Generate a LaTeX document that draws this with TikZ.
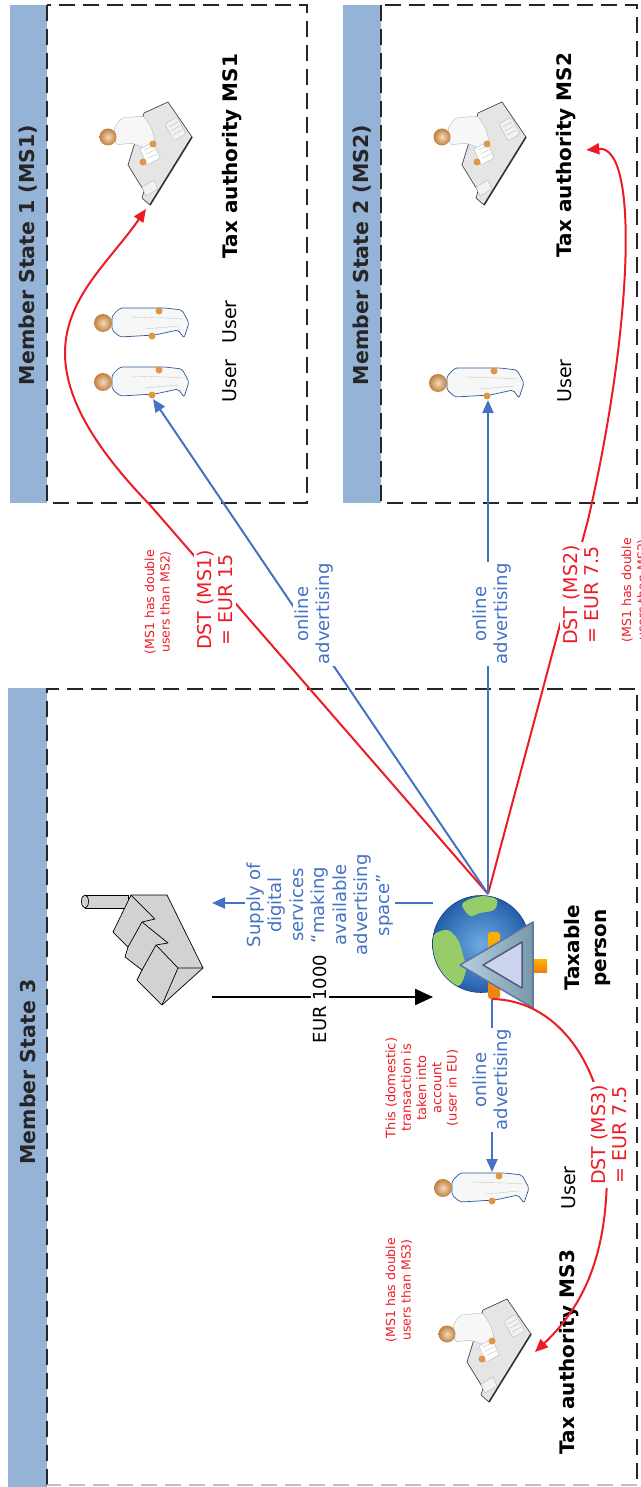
\documentclass[tikz,border=0pt]{standalone}
\usepackage{fontspec}
\setmainfont{DejaVu Sans}
\usetikzlibrary{arrows.meta}

\definecolor{barblue}{RGB}{149,179,215}
\definecolor{advblue}{RGB}{68,114,196}
\definecolor{dstred}{RGB}{237,28,36}
\definecolor{skin}{RGB}{225,150,70}
\definecolor{userblue}{RGB}{45,85,155}
\definecolor{globelight}{RGB}{110,170,225}
\definecolor{globedark}{RGB}{35,95,170}
\definecolor{landgreen}{RGB}{150,205,105}
\definecolor{tribody}{RGB}{150,190,210}
\definecolor{triedge}{RGB}{95,115,165}
\definecolor{triinner}{RGB}{205,212,238}

\tikzset{
  user/.pic={
    \filldraw[fill=gray!6, draw=userblue, line width=0.7pt, rounded corners=2pt]
      (9,-7) -- (17,-15) -- (62,-15) -- (79,-13) -- (86,0) -- (81,15) -- (75,7) -- (52,12) -- (17,14) -- (9,7) -- cycle;
    \draw[gray!45] (28,-6) -- (62,-5) -- (80,-4) (42,6) -- (76,3);
    \fill[skin] (56,-12) circle (3.5) (49,13) circle (3.5);
    \shade[inner color=skin!35!white, outer color=skin!85!black] (0,0) circle (9);
    \coordinate (-top) at (49,-16);
    \coordinate (-bot) at (50,17);
  },
  officer/.pic={
    \filldraw[fill=gray!20, draw=gray!55!black, line width=0.7pt, line join=round]
      (36,-24) -- (60,-35) -- (84,0) -- (42,68) -- (34,61) -- (36,54) -- (20,28) -- cycle;
    \draw[gray!40!black, line width=1.6pt] (84,0) -- (42,68);
    \filldraw[fill=gray!10, draw=gray!55, rounded corners=2pt] (57,-13) -- (69,-20) -- (78,-3) -- (66,4) -- cycle;
    \draw[gray!55] (61,-10) -- (70,-15) (63,-6) -- (72,-11) (65,-2) -- (74,-7);
    \filldraw[fill=gray!10, draw=gray!55] (34,50) -- (46,43) -- (50,52) -- (38,59) -- cycle;
    \filldraw[fill=gray!6, draw=gray!55, rounded corners=3pt]
      (6,-9) -- (13,-19) -- (36,-21) -- (44,-8) -- (48,8) -- (40,12) -- (24,6) -- (8,8) -- cycle;
    \filldraw[fill=white, draw=gray!55] (32,12) -- (45,5) -- (52,21) -- (39,28) -- cycle;
    \draw[gray!50] (36,13) -- (45,9) (38,17) -- (47,13) (40,21) -- (49,17);
    \fill[skin] (45,7) circle (3.5) (35,25) circle (3.5);
    \shade[inner color=skin!35!white, outer color=skin!85!black] (0,0) circle (8.5);
    \coordinate (-in) at (38,72);
    \coordinate (-side) at (88,18);
  }
}

\begin{document}
\begin{tikzpicture}[x=1pt,y=-1pt,
    zone/.style={draw=black!85, line width=1.8pt, dash pattern=on 16pt off 8pt},
    statebar/.style={fill=barblue},
    state/.style={rotate=90, text=black!85, font=\fontsize{20.5}{24}\selectfont\bfseries},
    title/.style={rotate=90, font=\fontsize{20}{27}\selectfont\bfseries},
    who/.style={rotate=90, font=\fontsize{19}{22}\selectfont},
    adv/.style={rotate=90, align=center, text=advblue, fill=white, inner sep=1.5pt, font=\fontsize{18}{21.5}\selectfont},
    dst/.style={rotate=90, align=center, text=dstred, fill=white, inner sep=3pt, font=\fontsize{19}{21}\selectfont},
    note/.style={rotate=90, align=center, text=dstred, font=\fontsize{12.5}{15.5}\selectfont},
    advline/.style={draw=advblue, line width=2pt, -{Triangle[length=13pt,width=11pt]}},
    dstline/.style={draw=dstred, line width=2pt, -{Triangle[length=13pt,width=11pt]}}]
\useasboundingbox (0,0) rectangle (640,1487);

% member states
\fill[statebar] (10,5) rectangle (47,503);
\draw[zone] (47,5) rectangle (307,503);
\fill[statebar] (343,5) rectangle (381,503);
\draw[zone] (381,5) rectangle (637,503);
\fill[statebar] (8,688) rectangle (47,1487);
\draw[zone] (47,1485) -- (47,689) -- (637,689) -- (637,1485);
\draw[zone, draw=black!25] (637,1485) -- (47,1485);
\node[state] (ms1) at (28,255) {Member State 1 (MS1)};
\node[state] (ms2) at (362,255) {Member State 2 (MS2)};
\node[state] (ms3) at (28,1072) {Member State 3};

% people
\pic (o1) at (108,137) {officer};
\pic (u1) at (103,323) {user};
\pic (u2) at (103,382) {user};
\pic (o2) at (442,137) {officer};
\pic (u3) at (438,383) {user};
\pic (u4) at (443,1188) {user};
\pic (o3) at (447,1334) {officer};
\node[title] (ta1) at (232,156) {Tax authority MS1};
\node[who] (w1) at (230,322) {User};
\node[who] (w2) at (230,381) {User};
\node[title] (ta2) at (566,155) {Tax authority MS2};
\node[who] (w3) at (565,381) {User};
\node[who] (w4) at (569,1188) {User};
\node[title] (ta3) at (569,1352) {Tax authority MS3};

% factory
\filldraw[fill=gray!35, draw=black, line width=0.7pt] (85,895) rectangle (128,908);
\filldraw[fill=gray!35, draw=black, line width=0.7pt] (85,901.5) ellipse [x radius=3.5, y radius=6.5];
\filldraw[fill=gray!35, draw=black, line width=0.7pt, line join=round]
  (131,895) -- (167,895) -- (203,968) -- (162,1005) -- (137,980) -- (142,970) -- (125,957) -- (128,947) -- (113,932) -- cycle;
\draw[line width=0.7pt, line join=round] (131,895) -- (155,919) -- (142,922) -- (168,943) -- (156,945) -- (178,968) -- (203,968)
  (178,968) -- (162,1005) (128,947) -- (142,922) (142,970) -- (156,945);

% taxable person
\node[circle, minimum size=97pt, inner sep=0pt, draw=globedark!70!black, line width=0.6pt,
  inner color=globelight, outer color=globedark] (globe) at (481,944) {};
\begin{scope}
  \clip (globe.center) circle (48);
  \fill[landgreen] plot[smooth cycle] coordinates {(462,905) (470,899) (485,896) (497,900) (494,910) (480,913) (470,916)};
  \fill[landgreen] plot[smooth cycle] coordinates {(434,935) (448,930) (458,940) (463,955) (466,970) (460,985) (450,983) (440,970) (432,955)};
\end{scope}
\shade[top color=orange!60!yellow, bottom color=orange!75!brown, rounded corners=3pt] (488,932) rectangle (500,999);
\shade[top color=orange!60!yellow, bottom color=orange!75!brown] (530,959) rectangle (547,972);
\filldraw[left color=tribody!70!white, right color=tribody!80!black, draw=triedge, line width=1.5pt, line join=round]
  (460,965) -- (533,922) -- (533,1008) -- cycle;
\filldraw[fill=triinner, draw=triedge!80!black, line width=1.5pt, line join=round]
  (483,965) -- (522,942) -- (522,988) -- cycle;
\node[title, align=center] (tp) at (587,948) {Taxable\\person};

% notes
\node[note] (n1) at (158,602) {(MS1 has double\\users than MS2)};
\node[note] (n2) at (635,590) {(MS1 has double\\users than MS2)};
\node[note] (n3) at (399,1290) {(MS1 has double\\users than MS3)};
\node[note, font=\fontsize{13}{15.3}\selectfont] (n4) at (422,1088) {This (domestic)\\transaction is\\taken into\\account\\(user in EU)};

% connectors
\coordinate (src) at (488,894);
\coordinate (low) at (492,999);
\coordinate (sup0) at (433,903);
\coordinate (sup1) at (212,903);
\coordinate (pay0) at (212,997);
\coordinate (pay1) at (433,997);
\coordinate (bend1) at (150,505);
\coordinate (bend2) at (588,520);
\draw[dstline] (src) -- (bend1) .. controls (-5,345) and (90,290) .. (o1-in);
\draw[dstline] (src) -- (bend2) .. controls (632,330) and (640,145) .. ([xshift=7pt,yshift=5pt]ta2.south);
\draw[dstline] (low) .. controls (555,1000) and (600,1060) .. (606,1140) .. controls (612,1240) and (590,1300) .. (o3-side);
\draw[advline] (src) -- (u2-bot);
\draw[advline] (src) -- (u3-bot);
\draw[advline] (sup0) -- (sup1);
\draw[advline] (low) -- (u4-top);
\draw[line width=2.4pt, -{Triangle[length=18pt,width=16pt]}] (pay0) -- (pay1);

% connector labels
\node[adv] (adv1) at (314,614) {online\\advertising};
\node[adv] (adv2) at (492,614) {online\\advertising};
\node[adv] (adv3) at (492,1080) {online\\advertising};
\node[adv] (supply) at (320,905) {Supply of\\digital\\services\\“making\\available\\advertising\\space”};
\node[rotate=90, fill=white, inner sep=2pt, font=\fontsize{18}{21}\selectfont] (eur) at (320,999) {EUR 1000};
\node[dst] (dst1) at (215,600) {DST (MS1)\\= EUR 15};
\node[dst] (dst2) at (581,595) {DST (MS2)\\= EUR 7.5};
\node[dst] (dst3) at (609,1135) {DST (MS3)\\= EUR 7.5};
\end{tikzpicture}
\end{document}
